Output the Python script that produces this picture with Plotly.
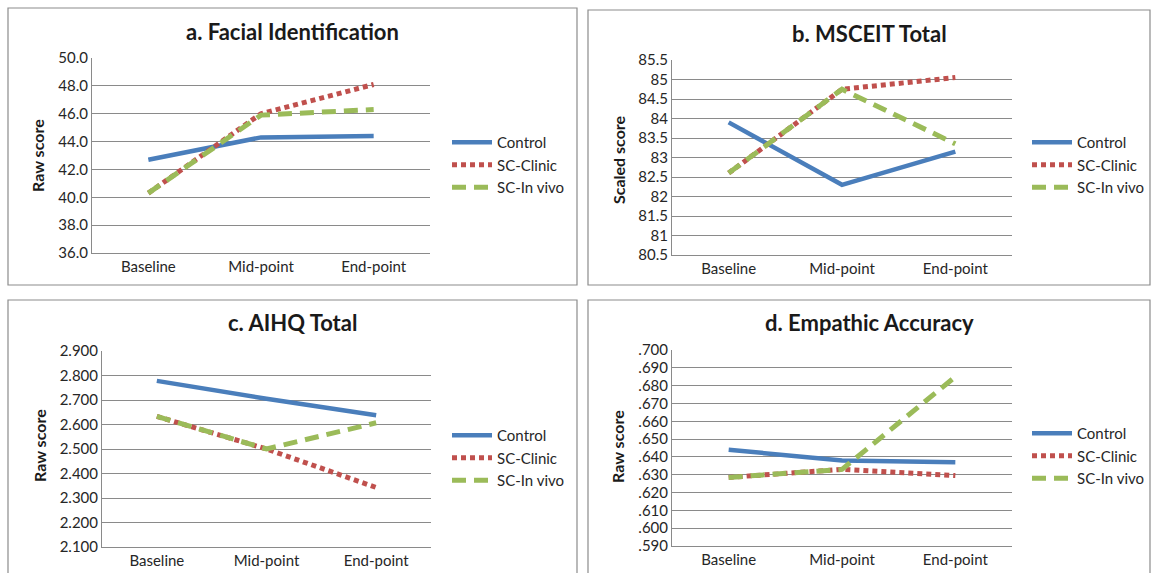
import plotly.graph_objects as go

W, H = 1152, 573

categories = ["Baseline", "Mid-point", "End-point"]
series_names = ["Control", "SC-Clinic", "SC-In vivo"]

# a. Facial Identification
a_control = [42.7, 44.3, 44.4]
a_clinic = [40.3, 46.0, 48.1]
a_invivo = [40.3, 45.9, 46.3]
a_ticks = [36.0, 38.0, 40.0, 42.0, 44.0, 46.0, 48.0, 50.0]
a_ticktext = ["36.0", "38.0", "40.0", "42.0", "44.0", "46.0", "48.0", "50.0"]

# b. MSCEIT Total
b_control = [83.9, 82.3, 83.15]
b_clinic = [82.6, 84.75, 85.05]
b_invivo = [82.6, 84.75, 83.35]
b_ticks = [80.5, 81, 81.5, 82, 82.5, 83, 83.5, 84, 84.5, 85, 85.5]
b_ticktext = ["80.5", "81", "81.5", "82", "82.5", "83", "83.5", "84", "84.5", "85", "85.5"]

# c. AIHQ Total
c_control = [2.778, 2.705, 2.638]
c_clinic = [2.633, 2.500, 2.343]
c_invivo = [2.633, 2.500, 2.607]
c_ticks = [2.1, 2.2, 2.3, 2.4, 2.5, 2.6, 2.7, 2.8, 2.9]
c_ticktext = ["2.100", "2.200", "2.300", "2.400", "2.500", "2.600", "2.700", "2.800", "2.900"]

# d. Empathic Accuracy
d_control = [0.644, 0.638, 0.637]
d_clinic = [0.6285, 0.633, 0.6295]
d_invivo = [0.6285, 0.633, 0.685]
d_ticks = [0.59, 0.60, 0.61, 0.62, 0.63, 0.64, 0.65, 0.66, 0.67, 0.68, 0.69, 0.70]
d_ticktext = [".590", ".600", ".610", ".620", ".630", ".640", ".650", ".660", ".670", ".680", ".690", ".700"]

titles = ["a. Facial Identification", "b. MSCEIT Total", "c. AIHQ Total", "d. Empathic Accuracy"]
ytitles = ["Raw score", "Scaled score", "Raw score", "Raw score"]

colors = ["#4A7EBB", "#C0504D", "#9BBB59"]
dashes = ["solid", "5px,4px", "14px,8px"]
widths = [4.5, 5, 5]

FONT = "Lato, Carlito, Calibri, sans-serif"
GRID = "#8A8A8A"
TXT = "#262626"

def px(x):
    return x / W

def py(y):
    return 1 - y / H

panels = [
    dict(data=[a_control, a_clinic, a_invivo], ticks=a_ticks, tt=a_ticktext,
         plot=(92, 430, 58, 253), frame=(8, 577, 8, 285), legy=165,
         legx=447, ytx=37, yty=156),
    dict(data=[b_control, b_clinic, b_invivo], ticks=b_ticks, tt=b_ticktext,
         plot=(672, 1012, 60, 255), frame=(588, 1150, 10, 285), legy=165,
         legx=1027, ytx=618, yty=160),
    dict(data=[c_control, c_clinic, c_invivo], ticks=c_ticks, tt=c_ticktext,
         plot=(102, 431, 351, 547), frame=(8, 577, 300, 580), legy=458,
         legx=447, ytx=39, yty=446),
    dict(data=[d_control, d_clinic, d_invivo], ticks=d_ticks, tt=d_ticktext,
         plot=(672, 1012, 350, 546), frame=(588, 1150, 300, 580), legy=456,
         legx=1027, ytx=617, yty=447),
]

fig = go.Figure()
layout = dict(
    width=W, height=H,
    margin=dict(l=0, r=0, t=0, b=0, autoexpand=False),
    paper_bgcolor="white", plot_bgcolor="white",
    font=dict(family=FONT, size=15, color=TXT),
    shapes=[], annotations=[],
)

for i, p in enumerate(panels):
    k = "" if i == 0 else str(i + 1)
    xa, ya = "x" + k, "y" + k
    leg = "legend" + k
    for j in range(3):
        fig.add_trace(go.Scatter(
            x=categories, y=p["data"][j], name=series_names[j], mode="lines",
            line=dict(color=colors[j], width=widths[j], dash=dashes[j]),
            xaxis=xa, yaxis=ya, legend=leg, showlegend=True,
        ))
    x0, x1, y0, y1 = p["plot"]
    layout["xaxis" + k] = dict(
        domain=[px(x0), px(x1)], anchor=ya, type="category",
        range=[-0.5, 2.5], showgrid=False, showline=True, linecolor=GRID,
        linewidth=1, ticks="", tickfont=dict(size=15, color=TXT),
        fixedrange=True, automargin=False,
    )
    layout["yaxis" + k] = dict(
        domain=[py(y1), py(y0)], anchor=xa,
        range=[p["ticks"][0], p["ticks"][-1]],
        tickvals=p["ticks"], ticktext=p["tt"],
        showgrid=True, gridcolor=GRID, gridwidth=1,
        showline=True, linecolor=GRID, linewidth=1, ticks="",
        tickfont=dict(size=15, color=TXT), zeroline=False,
        fixedrange=True, automargin=False,
    )
    layout[leg] = dict(
        x=px(p["legx"]), xanchor="left",
        y=py(p["legy"]), yanchor="middle",
        bgcolor="rgba(0,0,0,0)", font=dict(size=15, color=TXT),
        itemwidth=40, tracegroupgap=0,
    )
    fx0, fx1, fy0, fy1 = p["frame"]
    layout["shapes"].append(dict(
        type="rect", xref="paper", yref="paper",
        x0=px(fx0), x1=px(fx1), y0=py(fy1), y1=py(fy0),
        line=dict(color="#8C8C8C", width=1.2), fillcolor="rgba(0,0,0,0)",
        layer="below",
    ))
    layout["annotations"].append(dict(
        text="<b>" + titles[i] + "</b>", xref="paper", yref="paper",
        x=px((fx0 + fx1) / 2), y=py(fy0 + 23), xanchor="center", yanchor="middle",
        showarrow=False, font=dict(size=22, color="#1a1a1a", family=FONT),
    ))
    layout["annotations"].append(dict(
        text="<b>" + ytitles[i] + "</b>", xref="paper", yref="paper",
        x=px(p["ytx"]), y=py(p["yty"]), xanchor="center", yanchor="middle",
        textangle=-90, showarrow=False, font=dict(size=16, color="#1a1a1a", family=FONT),
    ))

fig.update_layout(**layout)
post = (
    "var s=document.createElement('style');"
    "s.textContent='html,body{margin:0!important;padding:0!important;overflow:hidden!important;}';"
    "document.head.appendChild(s);"
)
fig.write_html("out.html", post_script=post, config={"displayModeBar": False})
